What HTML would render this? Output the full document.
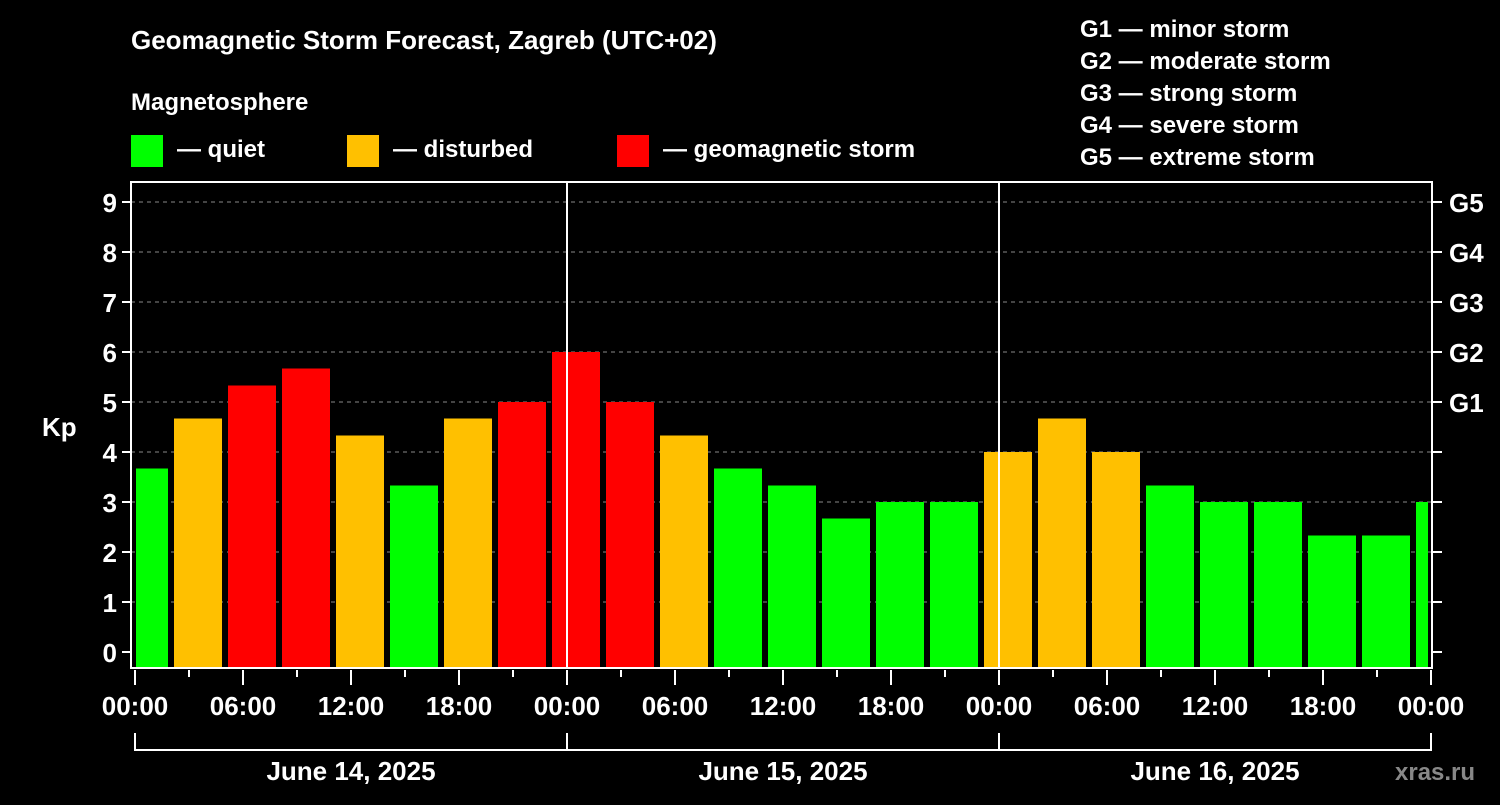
<!DOCTYPE html>
<html><head><meta charset="utf-8"><style>
body{margin:0;background:#000;width:1500px;height:800px;overflow:hidden;font-family:"Liberation Sans",Arial,sans-serif;}
svg text{font-family:"Liberation Sans",Arial,sans-serif;font-weight:bold;fill:#fff;}
</style></head><body>
<svg id="chart" width="1500" height="800" xmlns="http://www.w3.org/2000/svg">
<rect width="1500" height="800" fill="#000"/>
<text x="131" y="49" font-size="26">Geomagnetic Storm Forecast, Zagreb (UTC+02)</text>
<text x="131" y="110" font-size="24">Magnetosphere</text>
<g>
<rect x="131" y="135" width="32" height="32" fill="#00ff00"/>
<text x="177" y="157" font-size="24">— quiet</text>
<rect x="347" y="135" width="32" height="32" fill="#ffc000"/>
<text x="393" y="157" font-size="24">— disturbed</text>
<rect x="617" y="135" width="32" height="32" fill="#ff0000"/>
<text x="663" y="157" font-size="24">— geomagnetic storm</text>
</g>
<g font-size="24">
<text x="1080" y="37">G1 — minor storm</text>
<text x="1080" y="69">G2 — moderate storm</text>
<text x="1080" y="101">G3 — strong storm</text>
<text x="1080" y="133">G4 — severe storm</text>
<text x="1080" y="165">G5 — extreme storm</text>
</g>
<text x="42" y="436" font-size="26">Kp</text>
<text x="1395" y="780" font-size="24" style="fill:#888">xras.ru</text>
<defs><clipPath id="plotclip"><rect x="136" y="182" width="1292" height="486"/></clipPath></defs>
<g id="grid"></g>
<g id="bars" clip-path="url(#plotclip)"></g>
<g id="axes"></g>
</svg>
<script>
const kpValues = [3.67,4.67,5.33,5.67,4.33,3.33,4.67,5,6,5,4.33,3.67,3.33,2.67,3,3,4,4.67,4,3.33,3,3,2.33,2.33,3];
const barStartHours = [-1,2,5,8,11,14,17,20,23,26,29,32,35,38,41,44,47,50,53,56,59,62,65,68,71];
const kpTicks = [0,1,2,3,4,5,6,7,8,9];
const gLabels = ["","","","","","G1","G2","G3","G4","G5"];
const hourTicks = [0,6,12,18,24,30,36,42,48,54,60,66,72];
const hourTickLabels = ["00:00","06:00","12:00","18:00","00:00","06:00","12:00","18:00","00:00","06:00","12:00","18:00","00:00"];
const dayLabels = ["June 14, 2025","June 15, 2025","June 16, 2025"];

const NS="http://www.w3.org/2000/svg";
const X0=135, PXH=18, Y0=652, PXK=50, TOP=182, BOT=668, LEFT=131, RIGHT=1432;
const xs=h=>X0+h*PXH, ys=k=>Y0-k*PXK;
function mk(tag,attrs,parent){const e=document.createElementNS(NS,tag);for(const k in attrs)e.setAttribute(k,attrs[k]);parent.appendChild(e);return e;}
const grid=document.getElementById('grid'),bars=document.getElementById('bars'),axes=document.getElementById('axes');
kpTicks.forEach((k,i)=>{
  if(k>0){const l=mk('line',{x1:LEFT,x2:RIGHT,y1:ys(k),y2:ys(k),stroke:'#888','stroke-dasharray':'4,4','stroke-width':1},grid);
  
  }
  const t1=mk('line',{x1:LEFT-9,x2:LEFT,y1:ys(k),y2:ys(k),stroke:'#fff','stroke-width':2},axes);
  
  
  const lb=mk('text',{x:LEFT-14,y:ys(k)+10,'font-size':26,'text-anchor':'end'},axes);lb.textContent=k;
  
  
  const t2=mk('line',{x1:RIGHT,x2:RIGHT+10,y1:ys(k),y2:ys(k),stroke:'#fff','stroke-width':2},axes);
  
  
  if(gLabels[i]){const g=mk('text',{x:RIGHT+17,y:ys(k)+10,'font-size':26},axes);g.textContent=gLabels[i];
  
  }
});
kpValues.forEach((v,i)=>{
  const c=v>=5?'#ff0000':(v>=4?'#ffc000':'#00ff00');
  const x=xs(barStartHours[i])+3;
  const r=mk('rect',{x:x,y:ys(v),width:48,height:BOT-ys(v),fill:c},bars);
  
  
});
const frame=mk('rect',{x:LEFT,y:TOP,width:RIGHT-LEFT,height:BOT-TOP,fill:'none',stroke:'#fff','stroke-width':2},axes);


[24,48].forEach(h=>{const l=mk('line',{x1:xs(h),x2:xs(h),y1:TOP,y2:BOT,stroke:'#fff','stroke-width':2},axes);
  
  });
for(let h=0;h<=72;h+=3){const major=h%6===0;
  const t=mk('line',{x1:xs(h),x2:xs(h),y1:BOT+2,y2:BOT+(major?17:9),stroke:'#fff','stroke-width':2},axes);
  
  }
hourTicks.forEach((h,i)=>{const t=mk('text',{x:xs(h),y:715,'font-size':26,'text-anchor':'middle'},axes);t.textContent=hourTickLabels[i];
  
  });
const br=mk('path',{d:`M${xs(0)},733 V750 H${xs(72)} V733 M${xs(24)},733 V750 M${xs(48)},733 V750`,stroke:'#fff','stroke-width':2,fill:'none'},axes);


dayLabels.forEach((d,i)=>{const t=mk('text',{x:xs(24*i+12),y:780,'font-size':26,'text-anchor':'middle'},axes);t.textContent=d;
  
  });
</script>
</body></html>
